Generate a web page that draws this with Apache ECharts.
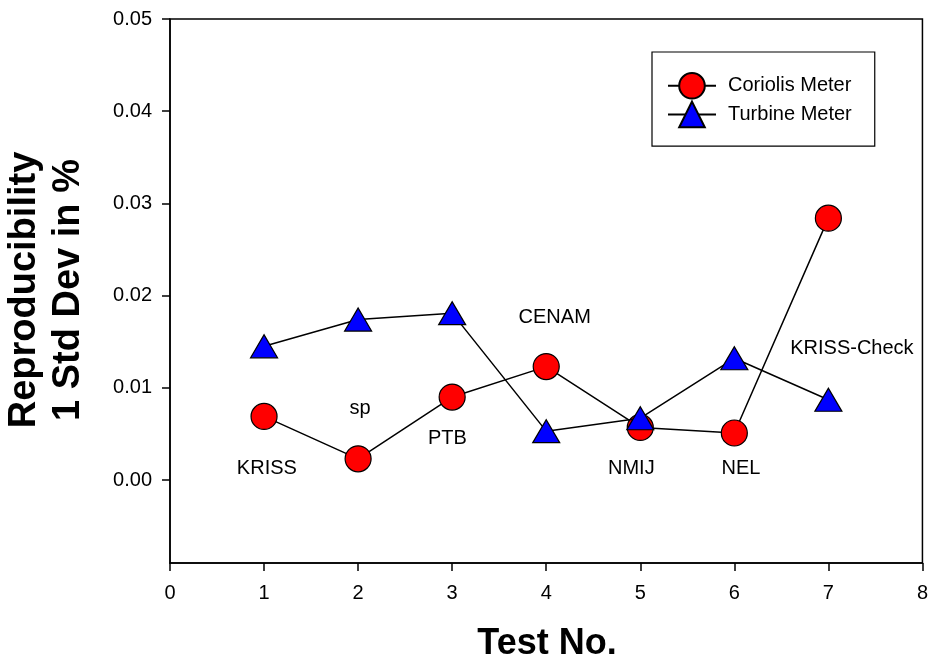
<!DOCTYPE html>
<html>
<head>
<meta charset="utf-8">
<script src="https://cdn.jsdelivr.net/npm/echarts@6/dist/echarts.min.js"></script>
<style>html,body{margin:0;padding:0;background:#fff}#c{width:931px;height:665px}</style>
</head>
<body>
<div id="c"></div>
<script>
var testNo = [1, 2, 3, 4, 5, 6, 7];
var coriolis = [0.0069, 0.0023, 0.0090, 0.0123, 0.0057, 0.0051, 0.0284];
var turbine = [0.0145, 0.0174, 0.0181, 0.0053, 0.0067, 0.0132, 0.0087];
var yTicks = [0, 0.01, 0.02, 0.03, 0.04, 0.05];
var labNames = ['KRISS', 'sp', 'PTB', 'CENAM', 'NMIJ', 'NEL', 'KRISS-Check'];
var labX = [1.03, 2.02, 2.95, 4.09, 4.905, 6.07, 7.25];
var labY = [0.0012, 0.0078, 0.00455, 0.0176, 0.00125, 0.00125, 0.0143];

var FONT = 'Arial, "Liberation Sans", sans-serif';
var chart = echarts.init(document.getElementById('c'), null, {renderer: 'canvas'});

function pairs(xs, ys) { return xs.map(function (x, i) { return [x, ys[i]]; }); }

chart.setOption({
  animation: false,
  backgroundColor: '#fff',
  grid: {left: 170, right: 5, top: 19, bottom: 102, show: true, borderColor: '#000', borderWidth: 1.5, containLabel: false},
  xAxis: {
    type: 'value', min: 0, max: 8, interval: 1,
    axisLine: {onZero: false, lineStyle: {color: '#000', width: 1.5}},
    axisTick: {show: true, inside: false, length: 8, lineStyle: {color: '#000', width: 1.5}},
    axisLabel: {color: '#000', fontSize: 20, fontFamily: FONT, margin: 20},
    splitLine: {show: false}
  },
  yAxis: {
    type: 'value', min: -0.009, max: 0.05,
    axisLine: {onZero: false, lineStyle: {color: '#000', width: 1.5}},
    axisTick: {show: true, inside: false, length: 8, customValues: yTicks, lineStyle: {color: '#000', width: 1.5}},
    axisLabel: {color: '#000', fontSize: 20, fontFamily: FONT, margin: 18, customValues: yTicks,
      formatter: function (v) { return v.toFixed(2); }},
    splitLine: {show: false}
  },
  legend: {
    orient: 'vertical', left: 652, top: 52,
    padding: [20, 23, 18, 15], itemGap: 1, itemWidth: 48, itemHeight: 32,
    borderColor: '#000', borderWidth: 1.2,
    textStyle: {color: '#000', fontSize: 20, fontFamily: FONT, padding: [0, 0, 0, 7]},
    data: ['Coriolis Meter', 'Turbine Meter']
  },
  series: [
    {
      name: 'Coriolis Meter', type: 'line', data: pairs(testNo, coriolis),
      symbol: 'circle', symbolSize: 26,
      lineStyle: {color: '#000', width: 1.5},
      itemStyle: {color: '#ff0000', borderColor: '#000', borderWidth: 1.2},
      z: 3
    },
    {
      name: 'Turbine Meter', type: 'line', data: pairs(testNo, turbine),
      symbol: 'triangle', symbolSize: [27, 23],
      lineStyle: {color: '#000', width: 1.5},
      itemStyle: {color: '#0000ff', borderColor: '#000', borderWidth: 1.2},
      z: 4
    },
    {
      name: 'labels', type: 'scatter', symbolSize: 0, silent: true,
      itemStyle: {opacity: 1},
      data: labNames.map(function (n, i) { return {name: n, value: [labX[i], labY[i]]}; }),
      label: {show: true, position: 'inside', formatter: '{b}', color: '#000', opacity: 1, fontSize: 20, fontFamily: FONT}
    }
  ],
  graphic: [
    {type: 'text', x: 47, y: 290, rotation: Math.PI / 2,
      style: {text: 'Reproducibility\n1 Std Dev in %', font: 'bold 38px ' + FONT, fill: '#000',
        textAlign: 'center', textVerticalAlign: 'middle', lineHeight: 44}},
    {type: 'text', x: 547, y: 644,
      style: {text: 'Test No.', font: 'bold 36px ' + FONT, fill: '#000',
        textAlign: 'center', textVerticalAlign: 'middle'}}
  ]
});
</script>
</body>
</html>
